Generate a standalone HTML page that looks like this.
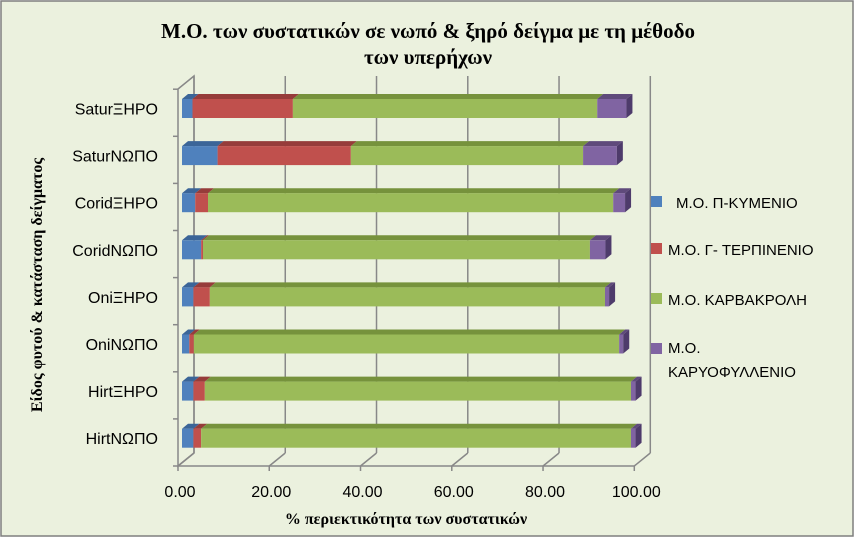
<!DOCTYPE html>
<html><head><meta charset="utf-8"><style>
body{margin:0;background:#fff}
svg{display:block;font-family:"Liberation Sans",sans-serif}
</style></head><body>
<svg id="c" width="854" height="537">
<rect x="1" y="1" width="852" height="535" fill="#EBF1DE" stroke="#7f7f7f" stroke-width="1.5"/>
<text x="428" y="38" text-anchor="middle" font-family="Liberation Serif,serif" font-weight="bold" font-size="21">Μ.Ο. των συστατικών σε νωπό &amp; ξηρό δείγμα με τη μέθοδο</text>
<text x="428" y="64" text-anchor="middle" font-family="Liberation Serif,serif" font-weight="bold" font-size="21">των υπερήχων</text>
<text transform="translate(42,285) rotate(-90)" text-anchor="middle" font-family="Liberation Serif,serif" font-weight="bold" font-size="16">Είδος φυτού &amp; κατάσταση δείγματος</text>
<text x="406" y="524" text-anchor="middle" font-family="Liberation Serif,serif" font-weight="bold" font-size="16">% περιεκτικότητα των συστατικών</text>
<g id="grid"></g><g id="bars"></g><g id="labels"></g><g id="legend"></g>
</svg>
<script>
const categories=["SaturΞΗΡΟ","SaturΝΩΠΟ","CoridΞΗΡΟ","CoridΝΩΠΟ","OniΞΗΡΟ","OniΝΩΠΟ","HirtΞΗΡΟ","HirtΝΩΠΟ"];
const seriesNames=["Μ.Ο. Π-ΚΥΜΕΝΙΟ","Μ.Ο. Γ- ΤΕΡΠΙΝΕΝΙΟ","Μ.Ο. ΚΑΡΒΑΚΡΟΛΗ","Μ.Ο. ΚΑΡΥΟΦΥΛΛΕΝΙΟ"];
const cymene=[2.3,7.8,2.9,4.2,2.5,1.6,2.5,2.5];
const terpinene=[22.0,29.2,2.8,0.4,3.6,1.0,2.5,1.7];
const carvacrol=[66.7,50.9,88.8,84.8,86.6,93.2,93.4,94.2];
const caryophyllene=[6.4,7.4,2.6,3.4,0.9,0.9,1.0,1.0];
const xTicks=[0,20,40,60,80,100];
const xTickLabels=["0.00","20.00","40.00","60.00","80.00","100.00"];
const NS="http://www.w3.org/2000/svg";
const fill=["#4F81BD","#C0504D","#9BBB59","#8064A2"],top_=["#3B6598","#963C3A","#76923C","#5F4A7B"];
const X0=178,SC=4.563,FLOOR=466,DX=16,DY=-13,TOPY=89;
const fx=v=>X0+v*SC;
const rowTop=i=>99+i*47.1, BH=19;
function el(t,a,p){const e=document.createElementNS(NS,t);for(const k in a)e.setAttribute(k,a[k]);p.appendChild(e);return e;}
const g=document.getElementById('grid');
// walls
let w=el('polygon',{points:`${X0},${FLOOR} ${X0+DX},${FLOOR+DY} ${X0+DX},${TOPY+DY} ${X0},${TOPY}`,fill:'none',stroke:'#888','stroke-width':1.5},g);


xTicks.forEach((t,i)=>{
 const x=fx(t);
 let l=el('line',{x1:x+DX,y1:FLOOR+DY,x2:x+DX,y2:TOPY+DY,stroke:'#888','stroke-width':1.5},g);
 
 
 let f=el('line',{x1:x,y1:FLOOR,x2:x+DX,y2:FLOOR+DY,stroke:'#888','stroke-width':1.5},g);
 
 
 let tk=el('line',{x1:x,y1:FLOOR,x2:x,y2:FLOOR+5,stroke:'#888','stroke-width':1.5},g);
 
 
 let tx=el('text',{x:x+2,y:497,'text-anchor':'middle','font-size':16,fill:'#000'},g);
 tx.textContent=xTickLabels[i];
 
 
});
let fl=el('line',{x1:X0,y1:FLOOR,x2:fx(100),y2:FLOOR,stroke:'#888','stroke-width':1.5},g);


for(let i=0;i<=categories.length;i++){
 const y=FLOOR-i*47.1;
 let tk=el('line',{x1:X0-5,y1:y,x2:X0,y2:y,stroke:'#888','stroke-width':1.5},g);
 
 
}
const bg=document.getElementById('bars'),lg=document.getElementById('labels');
const series=[cymene,terpinene,carvacrol,caryophyllene];
const bx=v=>182+v*SC, d=6, dh=5;
categories.forEach((c,i)=>{
 const y=rowTop(i);let acc=0;
 series.forEach((s,k)=>{
  const a=bx(acc),b=bx(acc+s[i]);acc+=s[i];
  const gg=el('g',{},bg);
  
  
  el('polygon',{points:`${a},${y} ${a+d},${y-dh} ${b+d},${y-dh} ${b},${y}`,fill:top_[k]},gg);
  el('rect',{x:a,y:y,width:Math.max(b-a,0),height:BH,fill:fill[k]},gg);
  if(k===3) el('polygon',{points:`${b},${y} ${b+d},${y-dh} ${b+d},${y+BH-dh} ${b},${y+BH}`,fill:'#4E3B6B'},gg);
 });
 let t=el('text',{x:158,y:y+BH/2+6,'text-anchor':'end','font-size':16},lg);
 t.textContent=c;
 
 
});
const L=document.getElementById('legend');
const ly=[203,250,300,350];
seriesNames.forEach((n,k)=>{
 const gg=el('g',{},L);
 
 
 el('rect',{x:651,y:ly[k]-7,width:11,height:11,fill:fill[k]},gg);
 if(k===3){
  let t=el('text',{x:668,y:ly[k]+3,'font-size':15},gg);t.textContent="Μ.Ο.";
  let t2=el('text',{x:668,y:ly[k]+27,'font-size':15},gg);t2.textContent="ΚΑΡΥΟΦΥΛΛΕΝΙΟ";
 } else {
  let t=el('text',{x:k===0?676:668,y:ly[k]+5,'font-size':15},gg);t.textContent=n;
 }
});
</script>
</body></html>
